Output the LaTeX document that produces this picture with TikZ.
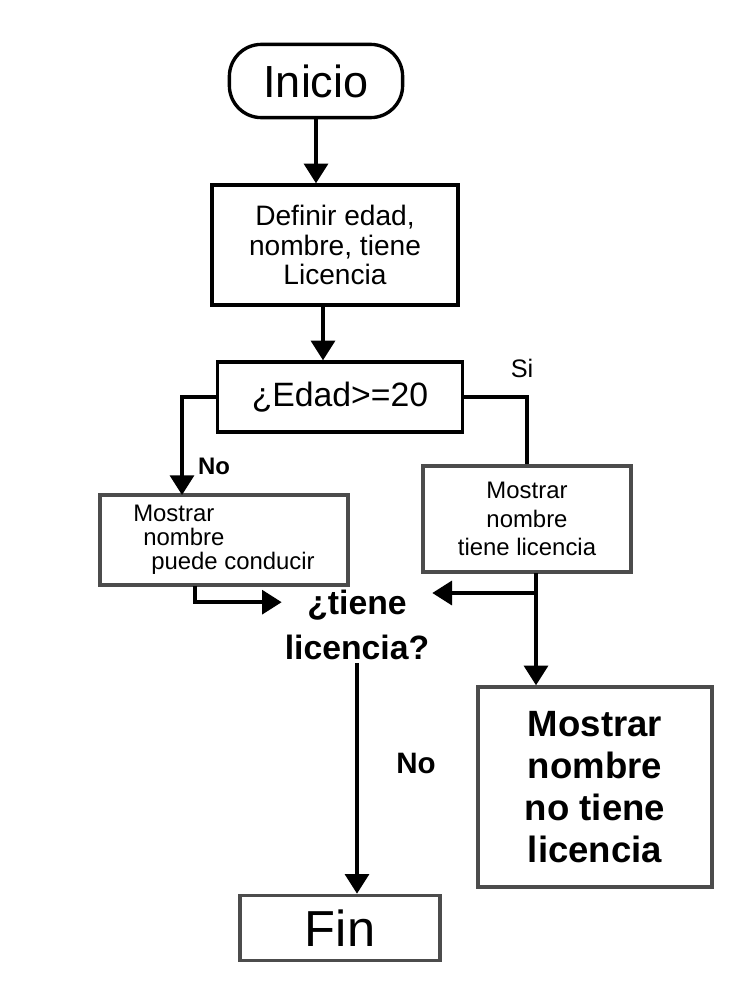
\documentclass[tikz,border=0pt]{standalone}
\usepackage{fontspec}
\setmainfont{Liberation Sans}
\usetikzlibrary{arrows.meta}

\begin{document}
\begin{tikzpicture}[
			x=0.025cm,
			y=-0.025cm,
			caja/.style={draw, line width=2.4pt, align=center, inner sep=4pt},
			cajagris/.style={draw=black!70, line width=2.4pt, align=center, inner sep=4pt},
			flecha/.style={line width=2.6pt, -{Triangle[width=17pt,length=14pt]}},
			linea/.style={line width=2.6pt},
			etiqueta/.style={font=\fontsize{17}{17}\selectfont\bfseries}
		]
		\useasboundingbox (0,0) rectangle (736,981);

		\node[caja, rounded corners=0.8cm, minimum width=4.33cm, minimum height=1.83cm,
			font=\fontsize{32}{36}\selectfont] (inicio) at (316,81) {Inicio};
		\node[caja, minimum width=6.15cm, minimum height=3.0cm,
			font=\fontsize{20}{21}\selectfont] (definir) at (335,245) {
			Definir edad,\\
			nombre, tiene\\
			Licencia
		};
		\node[caja, minimum width=6.13cm, minimum height=1.75cm,
			font=\fontsize{24}{26}\selectfont] (cond) at (340,397) {¿Edad>=20};

		\node[cajagris, align=left, minimum width=6.2cm, minimum height=2.25cm,
			font=\fontsize{17}{17}\selectfont] (conducir) at (224,540) {
			Mostrar\\
			\hspace*{0.25cm}nombre\\
			\hspace*{0.45cm}puede conducir
		};
		\node[cajagris, minimum width=5.2cm, minimum height=2.65cm,
			font=\fontsize{17}{20}\selectfont] (tiene) at (527,519) {
			Mostrar\\
			nombre\\
			tiene licencia
		};
		\node[inner sep=2pt, align=center, font=\fontsize{24}{32}\selectfont\bfseries]
			(pregunta) at (357,625) {¿tiene\\ licencia?};
		\node[cajagris, minimum width=5.85cm, minimum height=5.0cm,
			font=\fontsize{26}{30}\selectfont\bfseries] (notiene) at (595,787) {
			Mostrar\\
			nombre\\
			no tiene\\
			licencia
		};
		\node[cajagris, minimum width=5.0cm, minimum height=1.63cm,
			font=\fontsize{36}{38}\selectfont] (fin) at (340,928) {Fin};

		\node[etiqueta] (no1) at (214,466) {No};
		\node[font=\fontsize{18}{18}\selectfont] (si) at (522,368) {Si};
		\node[etiqueta, font=\fontsize{21}{21}\selectfont\bfseries] (no2) at (416,763) {No};

		\coordinate (defOut) at (323,305);
		\coordinate (noIn) at (182,495);
		\coordinate (noOut) at (195,586);
		\coordinate (siOut) at (536,573);
		\coordinate (siJunta) at (536,593);

		\draw[flecha] (inicio.south) -- (inicio.south |- definir.north);
		\draw[flecha] (defOut) -- (defOut |- cond.north);
		\draw[flecha] (cond.west) -| (noIn);
		\draw[linea] (cond.east) -| (tiene.north);
		\draw[flecha] (siOut) -- (siOut |- notiene.north);
		\draw[flecha] (siJunta) -- (siJunta -| pregunta.east);
		\draw[flecha] (noOut) |- ([yshift=0.57cm]pregunta.west);
		\draw[flecha] (pregunta.south) -- (pregunta.south |- fin.north);
	\end{tikzpicture}
\end{document}
